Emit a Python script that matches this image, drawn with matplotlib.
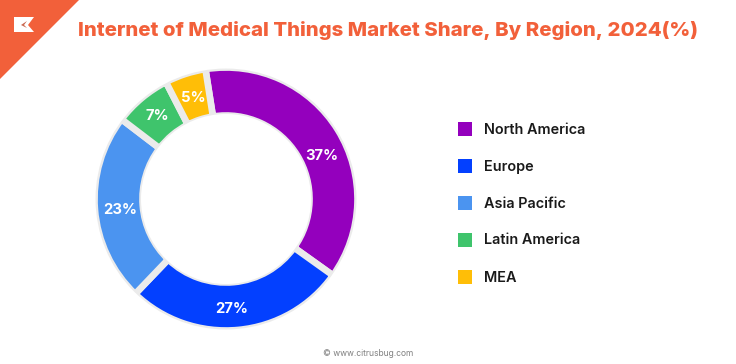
import matplotlib
matplotlib.use("Agg")
import matplotlib.pyplot as plt
from matplotlib.patches import Circle, Polygon, Rectangle

regions = ["North America", "Europe", "Asia Pacific", "Latin America", "MEA"]
shares = [37, 27, 23, 7, 5]
colors = ["#9400BD", "#0340FF", "#4B94F0", "#3FC46C", "#FFBE07"]

TITLE = "Internet of Medical Things Market Share, By Region, 2024(%)"
ORANGE = "#F2603A"
RIM = "#EBEBEB"
W, H = 736, 364
CX, CY = 226, 199

plt.rcParams["font.family"] = ["Inter", "DejaVu Sans"]

fig = plt.figure(figsize=(W / 100, H / 100), dpi=100)
ax = fig.add_axes([0, 0, 1, 1])


def py(y):
    # pixel row from the top to data y
    return H - y


# donut: thick edges make the gaps, white rings below trim them to a thin rim
wedges, _, autotexts = ax.pie(
    shares, colors=colors, startangle=99, counterclock=False,
    center=(CX, py(CY)), radius=131.5,
    wedgeprops=dict(width=48, edgecolor=RIM, linewidth=4.8),
    autopct=lambda p: "", pctdistance=0.83, frame=False,
)
ax.add_patch(Circle((CX, py(CY)), 134.5, fill=False, edgecolor="white", linewidth=5.8, zorder=3))
ax.add_patch(Circle((CX, py(CY)), 85, facecolor="white", edgecolor="none", zorder=3))

# labels sit a little off the slice middle in the original
nudges = [(3, 14), (-4, 1), (3, 3), (1, 1), (1, 3)]
for t, v, (dx, dy) in zip(autotexts, shares, nudges):
    x, y = t.get_position()
    t.set_position((x + dx, y - dy))
    t.set_text(f"{v}%")
    t.set_color("white")
    t.set_fontsize(10.7)
    t.set_fontweight("bold")
    t.set_zorder(4)

ax.set_xlim(0, W)
ax.set_ylim(0, H)
ax.set_aspect("equal")
ax.axis("off")

# corner banner and logo
ax.add_patch(Polygon([(0, py(0)), (79, py(0)), (0, py(79))], closed=True, color=ORANGE, lw=0))
ax.add_patch(Polygon([(14, py(17)), (34, py(17)), (28, py(25)), (34, py(32)), (14, py(32))],
                     closed=True, color="white", lw=0))
ax.add_patch(Polygon([(27, py(21)), (21, py(25)), (27, py(28)), (24, py(25))],
                     closed=True, color="#C9674F", lw=0))

ax.text(388, py(30), TITLE, color=ORANGE, fontsize=14.7, fontweight=800,
        ha="center", va="center")

# legend
for i, (name, c) in enumerate(zip(regions, colors)):
    y = 128.5 + i * 37
    ax.add_patch(Rectangle((457.5, py(y + 7)), 14, 14, color=c, lw=0))
    ax.text(484, py(y + 1), name, color="#1A1A1A", fontsize=10.4, fontweight="semibold",
            ha="left", va="center")

ax.text(368, py(353), "© www.citrusbug.com", color="#808080", fontsize=6.1,
        ha="center", va="center")

fig.savefig("out.png", dpi=100)
